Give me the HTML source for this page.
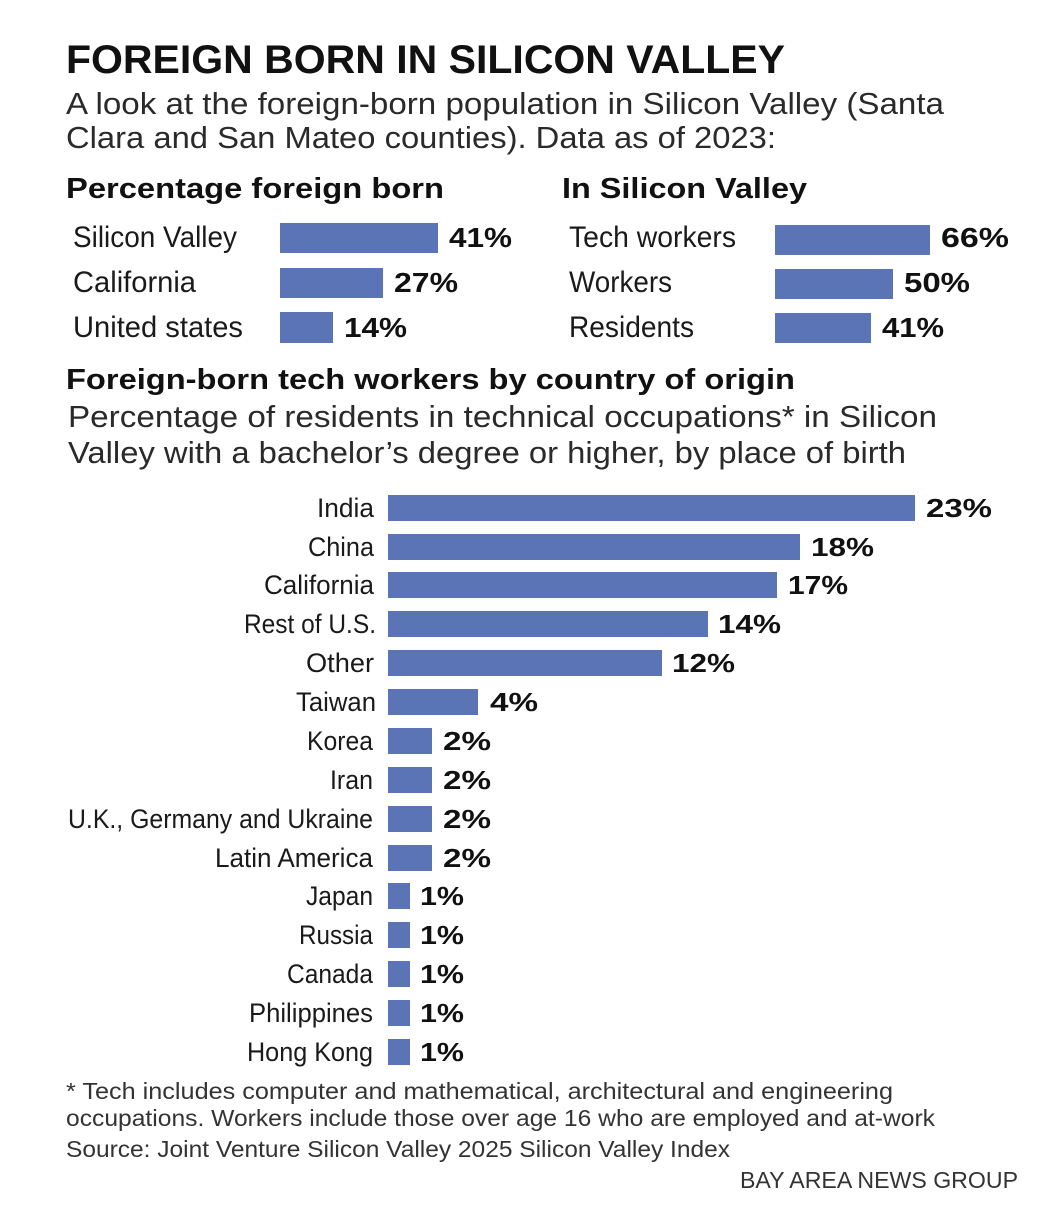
<!DOCTYPE html>
<html><head><meta charset="utf-8"><style>
html,body{margin:0;padding:0;background:#fff;}
svg{display:block;font-family:"Liberation Sans",sans-serif;}
.lab{font-size:30px;fill:#1a1a1a;}
.val{font-size:28px;font-weight:bold;fill:#111;}
.clab{font-size:27px;fill:#1a1a1a;}
.cval{font-size:26px;font-weight:bold;fill:#111;}
.sub{font-size:31px;fill:#2a2a2a;}
.hdr{font-size:29px;font-weight:bold;fill:#111;}
.foot{font-size:23px;fill:#333;}
rect{fill:#5b74b5;}
</style></head><body>
<svg width="1048" height="1232" viewBox="0 0 1048 1232" xmlns="http://www.w3.org/2000/svg">
<text x="66" y="73" font-size="40" font-weight="bold" fill="#111" textLength="719" lengthAdjust="spacingAndGlyphs">FOREIGN BORN IN SILICON VALLEY</text>
<text class="sub" x="66" y="114" textLength="878" lengthAdjust="spacingAndGlyphs">A look at the foreign-born population in Silicon Valley (Santa</text>
<text class="sub" x="66" y="148" textLength="710" lengthAdjust="spacingAndGlyphs">Clara and San Mateo counties). Data as of 2023:</text>

<text class="hdr" x="66" y="198" textLength="378" lengthAdjust="spacingAndGlyphs">Percentage foreign born</text>
<text class="hdr" x="562" y="198" textLength="245" lengthAdjust="spacingAndGlyphs">In Silicon Valley</text>

<text class="lab" x="73" y="247" textLength="164" lengthAdjust="spacingAndGlyphs">Silicon Valley</text>
<text class="lab" x="73" y="292" textLength="123" lengthAdjust="spacingAndGlyphs">California</text>
<text class="lab" x="73" y="337" textLength="170" lengthAdjust="spacingAndGlyphs">United states</text>
<rect x="280" y="223" width="158" height="30"/>
<rect x="280" y="268" width="103" height="30"/>
<rect x="280" y="312" width="53" height="31"/>
<text class="val" x="449" y="247" textLength="63" lengthAdjust="spacingAndGlyphs">41%</text>
<text class="val" x="394" y="292" textLength="64" lengthAdjust="spacingAndGlyphs">27%</text>
<text class="val" x="344" y="337" textLength="63" lengthAdjust="spacingAndGlyphs">14%</text>

<text class="lab" x="569" y="247" textLength="167" lengthAdjust="spacingAndGlyphs">Tech workers</text>
<text class="lab" x="569" y="292" textLength="103" lengthAdjust="spacingAndGlyphs">Workers</text>
<text class="lab" x="569" y="337" textLength="125" lengthAdjust="spacingAndGlyphs">Residents</text>
<rect x="775" y="225" width="155" height="30"/>
<rect x="775" y="269" width="118" height="30"/>
<rect x="775" y="313" width="96" height="30"/>
<text class="val" x="941" y="247" textLength="68" lengthAdjust="spacingAndGlyphs">66%</text>
<text class="val" x="904" y="292" textLength="66" lengthAdjust="spacingAndGlyphs">50%</text>
<text class="val" x="882" y="337" textLength="62" lengthAdjust="spacingAndGlyphs">41%</text>

<text class="hdr" x="66" y="389" textLength="729" lengthAdjust="spacingAndGlyphs">Foreign-born tech workers by country of origin</text>
<text class="sub" x="68" y="427" textLength="869" lengthAdjust="spacingAndGlyphs">Percentage of residents in technical occupations* in Silicon</text>
<text class="sub" x="68" y="463" textLength="838" lengthAdjust="spacingAndGlyphs">Valley with a bachelor’s degree or higher, by place of birth</text>

<g>
<text class="clab" x="374" y="517" text-anchor="end" textLength="57" lengthAdjust="spacingAndGlyphs">India</text>
<rect x="388" y="495" width="527" height="26"/>
<text class="cval" x="926" y="517" textLength="66" lengthAdjust="spacingAndGlyphs">23%</text>

<text class="clab" x="374" y="556" text-anchor="end" textLength="66" lengthAdjust="spacingAndGlyphs">China</text>
<rect x="388" y="534" width="412" height="26"/>
<text class="cval" x="811" y="556" textLength="63" lengthAdjust="spacingAndGlyphs">18%</text>

<text class="clab" x="374" y="594" text-anchor="end" textLength="110" lengthAdjust="spacingAndGlyphs">California</text>
<rect x="388" y="572" width="389" height="26"/>
<text class="cval" x="788" y="594" textLength="60" lengthAdjust="spacingAndGlyphs">17%</text>

<text class="clab" x="376" y="633" text-anchor="end" textLength="132" lengthAdjust="spacingAndGlyphs">Rest of U.S.</text>
<rect x="388" y="611" width="320" height="26"/>
<text class="cval" x="718" y="633" textLength="63" lengthAdjust="spacingAndGlyphs">14%</text>

<text class="clab" x="374" y="672" text-anchor="end" textLength="68" lengthAdjust="spacingAndGlyphs">Other</text>
<rect x="388" y="650" width="274" height="26"/>
<text class="cval" x="672" y="672" textLength="63" lengthAdjust="spacingAndGlyphs">12%</text>

<text class="clab" x="376" y="711" text-anchor="end" textLength="80" lengthAdjust="spacingAndGlyphs">Taiwan</text>
<rect x="388" y="689" width="90" height="26"/>
<text class="cval" x="490" y="711" textLength="48" lengthAdjust="spacingAndGlyphs">4%</text>

<text class="clab" x="373" y="750" text-anchor="end" textLength="66" lengthAdjust="spacingAndGlyphs">Korea</text>
<rect x="388" y="728" width="44" height="26"/>
<text class="cval" x="443" y="750" textLength="48" lengthAdjust="spacingAndGlyphs">2%</text>

<text class="clab" x="373" y="789" text-anchor="end" textLength="43" lengthAdjust="spacingAndGlyphs">Iran</text>
<rect x="388" y="767" width="44" height="26"/>
<text class="cval" x="443" y="789" textLength="48" lengthAdjust="spacingAndGlyphs">2%</text>

<text class="clab" x="373" y="828" text-anchor="end" textLength="305" lengthAdjust="spacingAndGlyphs">U.K., Germany and Ukraine</text>
<rect x="388" y="806" width="44" height="26"/>
<text class="cval" x="443" y="828" textLength="48" lengthAdjust="spacingAndGlyphs">2%</text>

<text class="clab" x="373" y="867" text-anchor="end" textLength="158" lengthAdjust="spacingAndGlyphs">Latin America</text>
<rect x="388" y="845" width="44" height="26"/>
<text class="cval" x="443" y="867" textLength="48" lengthAdjust="spacingAndGlyphs">2%</text>

<text class="clab" x="373" y="905" text-anchor="end" textLength="67" lengthAdjust="spacingAndGlyphs">Japan</text>
<rect x="388" y="883" width="22" height="26"/>
<text class="cval" x="420" y="905" textLength="44" lengthAdjust="spacingAndGlyphs">1%</text>

<text class="clab" x="373" y="944" text-anchor="end" textLength="74" lengthAdjust="spacingAndGlyphs">Russia</text>
<rect x="388" y="922" width="22" height="26"/>
<text class="cval" x="420" y="944" textLength="44" lengthAdjust="spacingAndGlyphs">1%</text>

<text class="clab" x="373" y="983" text-anchor="end" textLength="86" lengthAdjust="spacingAndGlyphs">Canada</text>
<rect x="388" y="961" width="22" height="26"/>
<text class="cval" x="420" y="983" textLength="44" lengthAdjust="spacingAndGlyphs">1%</text>

<text class="clab" x="373" y="1022" text-anchor="end" textLength="124" lengthAdjust="spacingAndGlyphs">Philippines</text>
<rect x="388" y="1000" width="22" height="26"/>
<text class="cval" x="420" y="1022" textLength="44" lengthAdjust="spacingAndGlyphs">1%</text>

<text class="clab" x="373" y="1061" text-anchor="end" textLength="126" lengthAdjust="spacingAndGlyphs">Hong Kong</text>
<rect x="388" y="1039" width="22" height="26"/>
<text class="cval" x="420" y="1061" textLength="44" lengthAdjust="spacingAndGlyphs">1%</text>
</g>

<text class="foot" x="66" y="1099" textLength="827" lengthAdjust="spacingAndGlyphs">* Tech includes computer and mathematical, architectural and engineering</text>
<text class="foot" x="66" y="1126" textLength="869" lengthAdjust="spacingAndGlyphs">occupations. Workers include those over age 16 who are employed and at-work</text>
<text class="foot" x="66" y="1157" textLength="664" lengthAdjust="spacingAndGlyphs">Source: Joint Venture Silicon Valley 2025 Silicon Valley Index</text>
<text class="foot" x="740" y="1188" textLength="278" lengthAdjust="spacingAndGlyphs">BAY AREA NEWS GROUP</text>
</svg>
</body></html>
